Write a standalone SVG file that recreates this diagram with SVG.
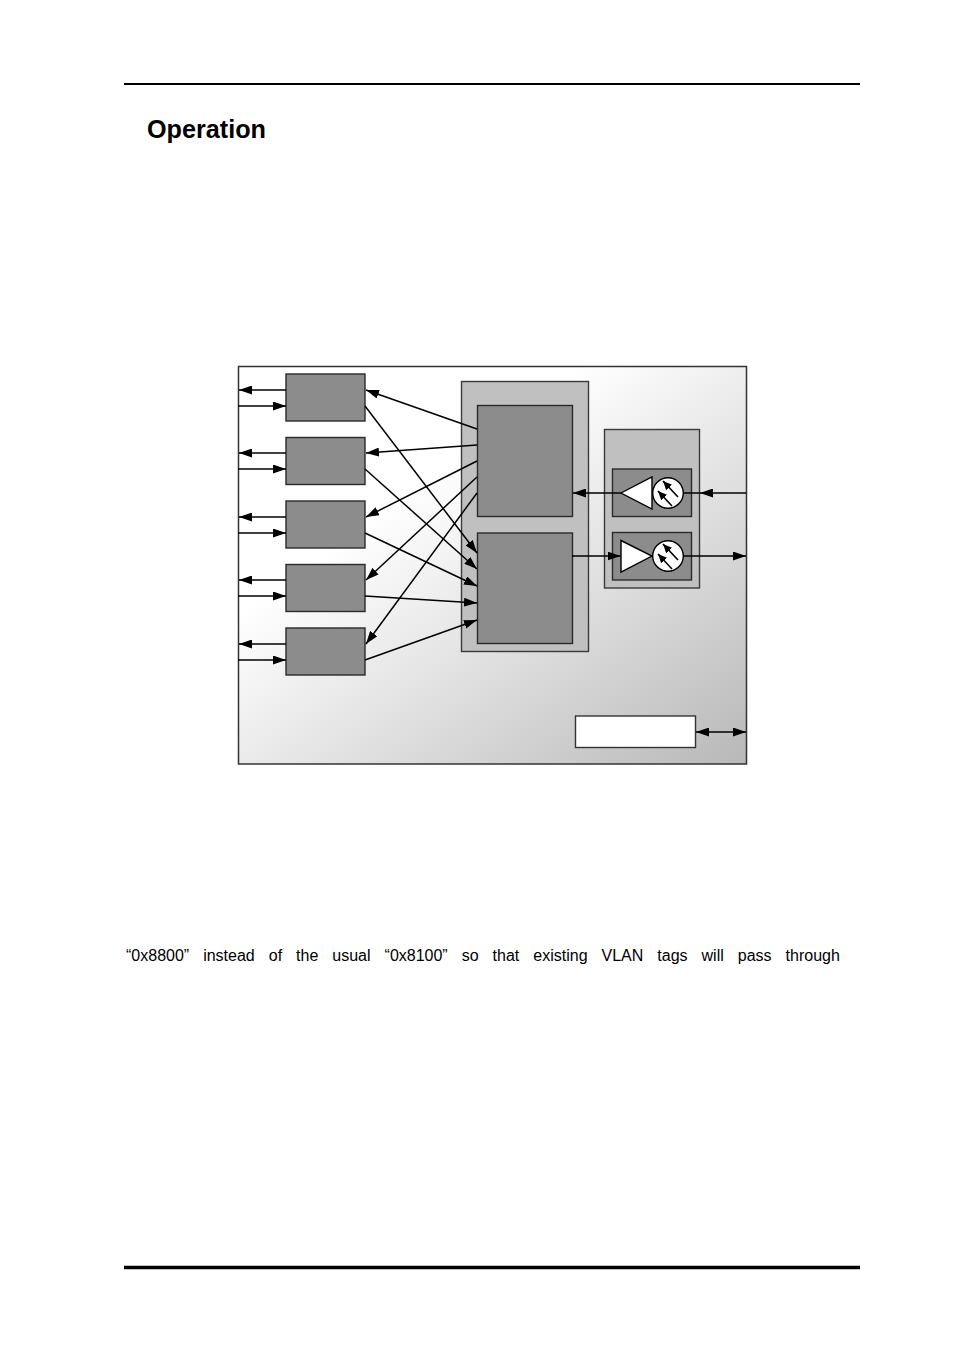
<svg xmlns="http://www.w3.org/2000/svg" width="954" height="1350" viewBox="0 0 954 1350">
<style>
.t{font-family:"Liberation Sans",Arial,sans-serif;fill:#000}
.box{fill:#8c8c8c;stroke:#2a2a2a;stroke-width:1.4}
.panel{fill:#c0c0c0;stroke:#3a3a3a;stroke-width:1.4}
.ln{stroke:#000;stroke-width:1.5;fill:none}
.arr{stroke:#000;stroke-width:1.5;fill:none;marker-end:url(#ah)}
.sa{stroke:#000;stroke-width:1.6;fill:none;marker-end:url(#sh)}
</style>
<defs>
<marker id="ah" viewBox="0 0 13 9" refX="13" refY="4.5" markerWidth="13" markerHeight="9" orient="auto-start-reverse" markerUnits="userSpaceOnUse"><path d="M0,0 L13,4.5 L0,9 z" fill="#000"/></marker>
<marker id="sh" viewBox="0 0 9 8" refX="9" refY="4" markerWidth="9" markerHeight="8" orient="auto" markerUnits="userSpaceOnUse"><path d="M0,0 L9,4 L0,8 z" fill="#000"/></marker>
<linearGradient id="bg" x1="0.35" y1="0.3" x2="1" y2="1">
<stop offset="0" stop-color="#ffffff"/>
<stop offset="1" stop-color="#b8b8b8"/>
</linearGradient>
</defs>
<rect width="954" height="1350" fill="#fff"/>
<line x1="124" y1="84" x2="860" y2="84" stroke="#000" stroke-width="2.2"/>
<line x1="124" y1="1267.5" x2="860" y2="1267.5" stroke="#000" stroke-width="3.3"/>
<text class="t" x="147" y="138" font-size="25.2" font-weight="bold">Operation</text>
<text class="t" x="126" y="961" font-size="16" word-spacing="9.55">“0x8800” instead of the usual “0x8100” so that existing VLAN tags will pass through</text>

<g id="frame">
<rect x="238.5" y="366.5" width="508" height="397.5" fill="url(#bg)" stroke="#333" stroke-width="1.5"/>
</g>

<g id="port1"><rect class="box" x="286" y="374" width="79" height="47"/></g>
<g id="port2"><rect class="box" x="286" y="437.5" width="79" height="47"/></g>
<g id="port3"><rect class="box" x="286" y="501" width="79" height="47"/></g>
<g id="port4"><rect class="box" x="286" y="564.5" width="79" height="47"/></g>
<g id="port5"><rect class="box" x="286" y="628" width="79" height="47"/></g>

<g id="switch">
<rect class="panel" x="461.5" y="381.5" width="127" height="270"/>
<rect class="box" x="477.5" y="405.5" width="95" height="111"/>
<rect class="box" x="477.5" y="533" width="95" height="110.5"/>
</g>

<g id="optics">
<rect class="panel" x="604.5" y="429.5" width="95" height="158.5"/>
<rect class="box" x="612.5" y="469" width="79" height="47.5"/>
<rect class="box" x="612.5" y="532.5" width="79" height="47.5"/>
<polygon points="621,493 652,477 652,509" fill="#fff" stroke="#000" stroke-width="1.4"/>
<circle cx="668" cy="493" r="15.3" fill="#fff" stroke="#000" stroke-width="1.4"/>
<line class="sa" x1="672" y1="506" x2="658" y2="491"/>
<line class="sa" x1="678" y1="497" x2="663" y2="481"/>
<polygon points="621,540.5 621,572 652,556" fill="#fff" stroke="#000" stroke-width="1.4"/>
<circle cx="668" cy="556" r="15.3" fill="#fff" stroke="#000" stroke-width="1.4"/>
<line class="sa" x1="672" y1="569" x2="658" y2="554"/>
<line class="sa" x1="678" y1="560" x2="663" y2="544"/>
</g>

<g id="mgmt"><rect x="575.5" y="716" width="120" height="31.5" fill="#fff" stroke="#333" stroke-width="1.4"/></g>

<g id="connectors">
<line class="arr" x1="286" y1="390" x2="239" y2="390"/>
<line class="arr" x1="238" y1="406" x2="286" y2="406"/>
<line class="arr" x1="286" y1="453" x2="239" y2="453"/>
<line class="arr" x1="238" y1="469" x2="286" y2="469"/>
<line class="arr" x1="286" y1="517" x2="239" y2="517"/>
<line class="arr" x1="238" y1="533" x2="286" y2="533"/>
<line class="arr" x1="286" y1="580" x2="239" y2="580"/>
<line class="arr" x1="238" y1="596" x2="286" y2="596"/>
<line class="arr" x1="286" y1="644" x2="239" y2="644"/>
<line class="arr" x1="238" y1="660" x2="286" y2="660"/>

<line class="arr" x1="477" y1="429" x2="366" y2="390"/>
<line class="arr" x1="477" y1="445" x2="366" y2="453"/>
<line class="arr" x1="477" y1="461" x2="366" y2="517"/>
<line class="arr" x1="477" y1="477" x2="366" y2="580"/>
<line class="arr" x1="477" y1="493" x2="366" y2="644"/>

<line class="arr" x1="365" y1="406" x2="477" y2="553"/>
<line class="arr" x1="365" y1="469" x2="477" y2="569"/>
<line class="arr" x1="365" y1="533" x2="477" y2="586"/>
<line class="arr" x1="365" y1="596" x2="477" y2="603"/>
<line class="arr" x1="365" y1="660" x2="477" y2="620"/>

<line class="arr" x1="746" y1="493" x2="700" y2="493"/>
<line class="ln" x1="700" y1="493" x2="683.3" y2="493"/>
<line class="arr" x1="621" y1="493" x2="573" y2="493"/>
<line class="arr" x1="572" y1="556" x2="620.5" y2="556"/>
<line class="arr" x1="683.3" y1="556" x2="746" y2="556"/>
<line class="arr" x1="696" y1="732" x2="746" y2="732" style="marker-start:url(#ah)"/>
</g>
</svg>
